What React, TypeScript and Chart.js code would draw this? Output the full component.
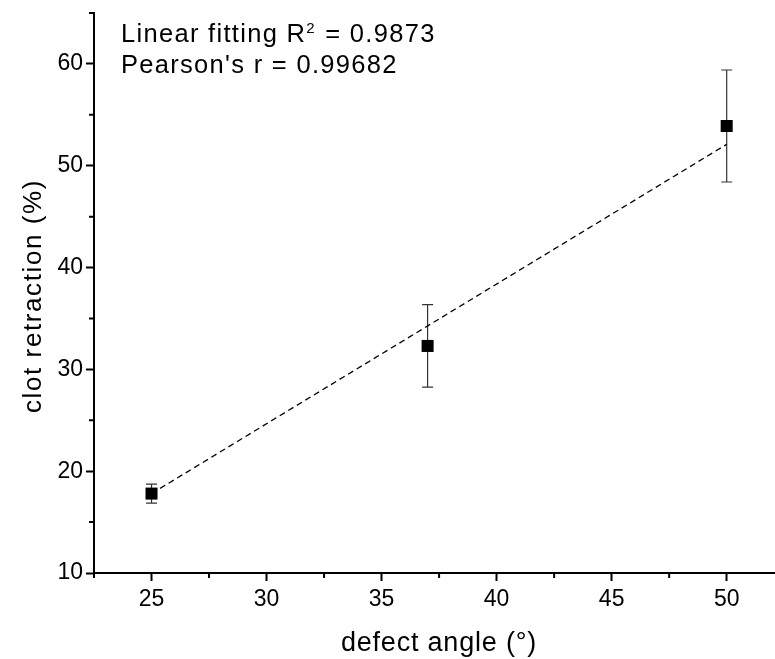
import React, { useEffect, useRef } from 'react';
import { Chart, registerables } from 'chart.js';

Chart.register(...registerables);

// ---- data ----
const angles = [25, 37, 50];
const retraction = [17.8, 32.3, 53.9];
const retractionErr = [0.93, 4.05, 5.5];
const fitX = [25, 50];
const fitY = [17.8, 52.1];
const xTicks = [25, 30, 35, 40, 45, 50];
const xMinorTicks = [22.5, 27.5, 32.5, 37.5, 42.5, 47.5];
const yTicks = [10, 20, 30, 40, 50, 60];
const yMinorTicks = [15, 25, 35, 45, 55, 65];
const xTitle = 'defect angle (°)';
const yTitle = 'clot retraction (%)';
const noteLine1 = ['Linear fitting R', '2', ' = 0.9873'];
const noteLine2 = "Pearson's r = 0.99682";

const FONT = '"Liberation Sans", Arial, Helvetica, sans-serif';

const extrasPlugin = {
  id: 'extras',
  beforeDatasetsDraw(chart: any) {
    const ctx = chart.ctx;
    const xs = chart.scales.x;
    const ys = chart.scales.y;
    ctx.save();
    ctx.strokeStyle = '#333';
    ctx.lineWidth = 1.2;
    angles.forEach((a, i) => {
      const px = xs.getPixelForValue(a);
      const top = ys.getPixelForValue(retraction[i] + retractionErr[i]);
      const bot = ys.getPixelForValue(retraction[i] - retractionErr[i]);
      ctx.beginPath();
      ctx.moveTo(px, top);
      ctx.lineTo(px, bot);
      ctx.moveTo(px - 5.5, top);
      ctx.lineTo(px + 5.5, top);
      ctx.moveTo(px - 5.5, bot);
      ctx.lineTo(px + 5.5, bot);
      ctx.stroke();
    });
    ctx.restore();
  },
  afterDraw(chart: any) {
    const ctx = chart.ctx;
    const xs = chart.scales.x;
    const ys = chart.scales.y;
    const area = chart.chartArea;
    ctx.save();
    // minor ticks
    ctx.strokeStyle = '#000';
    ctx.lineWidth = 2;
    ctx.beginPath();
    xMinorTicks.forEach((v) => {
      const px = xs.getPixelForValue(v);
      ctx.moveTo(px, area.bottom);
      ctx.lineTo(px, area.bottom + 5);
    });
    yMinorTicks.forEach((v) => {
      const py = ys.getPixelForValue(v);
      ctx.moveTo(area.left, py);
      ctx.lineTo(area.left - 5, py);
    });
    ctx.stroke();

    ctx.fillStyle = '#000';
    // annotation
    ctx.textBaseline = 'alphabetic';
    ctx.textAlign = 'left';
    (ctx as any).letterSpacing = '1.3px';
    ctx.font = `25.5px ${FONT}`;
    let x = 121;
    ctx.fillText(noteLine1[0], x, 42);
    x += ctx.measureText(noteLine1[0]).width;
    ctx.font = `15px ${FONT}`;
    ctx.fillText(noteLine1[1], x, 33);
    x += ctx.measureText(noteLine1[1]).width + 1;
    ctx.font = `25.5px ${FONT}`;
    ctx.fillText(noteLine1[2], x, 42);
    ctx.fillText(noteLine2, 121, 73);

    // axis titles
    (ctx as any).letterSpacing = '0.8px';
    ctx.font = `27px ${FONT}`;
    ctx.textAlign = 'center';
    ctx.fillText(xTitle, 439, 651);
    ctx.save();
    (ctx as any).letterSpacing = '1.6px';
    ctx.font = `26px ${FONT}`;
    ctx.translate(41, 296);
    ctx.rotate(-Math.PI / 2);
    ctx.fillText(yTitle, 0, 0);
    ctx.restore();
    ctx.restore();
  },
};

export default function App() {
  const ref = useRef<HTMLCanvasElement | null>(null);
  useEffect(() => {
    if (!ref.current) return;
    const chart = new Chart(ref.current, {
      type: 'scatter',
      data: {
        datasets: [
          {
            type: 'line',
            data: fitX.map((v, i) => ({ x: v, y: fitY[i] })),
            borderColor: '#000',
            borderWidth: 1.3,
            borderDash: [6, 4],
            pointRadius: 0,
            fill: false,
            order: 2,
          } as any,
          {
            type: 'scatter',
            data: angles.map((v, i) => ({ x: v, y: retraction[i] })),
            pointStyle: 'rect',
            pointRadius: 8.5,
            backgroundColor: '#000',
            borderColor: '#000',
            borderWidth: 0,
            order: 1,
          },
        ],
      },
      options: {
        animation: false,
        responsive: false,
        devicePixelRatio: 1,
        layout: { autoPadding: false, padding: { top: 13, right: 0, left: 0, bottom: 0 } },
        plugins: { legend: { display: false }, tooltip: { enabled: false } },
        scales: {
          x: {
            type: 'linear',
            min: 22.5,
            max: 52.1,
            afterBuildTicks: (s: any) => {
              s.ticks = xTicks.map((v) => ({ value: v }));
            },
            afterFit: (s: any) => {
              s.height = 86;
              s.paddingLeft = 0;
              s.paddingRight = 0;
            },
            border: { display: true, color: '#000', width: 2 },
            grid: {
              display: true,
              drawOnChartArea: false,
              drawTicks: true,
              tickLength: 8,
              tickWidth: 2,
              tickColor: '#000',
            },
            ticks: {
              font: { size: 23, family: FONT },
              color: '#000',
              padding: 5,
              maxRotation: 0,
              autoSkip: false,
            },
          },
          y: {
            type: 'linear',
            min: 10,
            max: 65,
            afterBuildTicks: (s: any) => {
              s.ticks = yTicks.map((v) => ({ value: v }));
            },
            afterFit: (s: any) => {
              s.width = 94;
              s.paddingTop = 0;
              s.paddingBottom = 0;
            },
            border: { display: true, color: '#000', width: 2 },
            grid: {
              display: true,
              drawOnChartArea: false,
              drawTicks: true,
              tickLength: 8,
              tickWidth: 2,
              tickColor: '#000',
            },
            ticks: {
              font: { size: 23, family: FONT },
              color: '#000',
              padding: 3,
              autoSkip: false,
            },
          },
        },
      },
      plugins: [extrasPlugin],
    });
    return () => chart.destroy();
  }, []);
  return (
    <div style={{ position: 'absolute', left: 0, top: 0, width: 775, height: 659, background: '#fff' }}>
      <canvas ref={ref} width={775} height={659} />
    </div>
  );
}
